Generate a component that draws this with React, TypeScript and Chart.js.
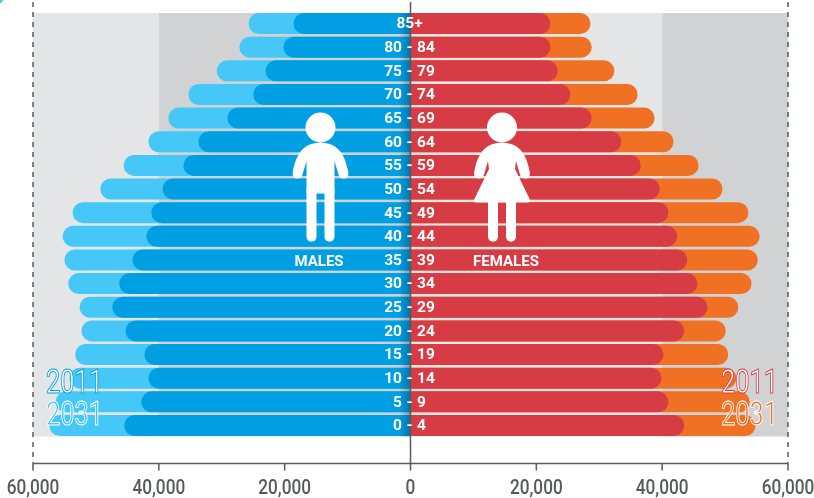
import React, { useEffect, useRef } from "react";
import { Chart, registerables } from "chart.js";

Chart.register(...registerables);

const ageGroups = ["85+", "80 - 84", "75 - 79", "70 - 74", "65 - 69", "60 - 64", "55 - 59", "50 - 54", "45 - 49", "40 - 44", "35 - 39", "30 - 34", "25 - 29", "20 - 24", "15 - 19", "10 - 14", "5 - 9", "0 - 4"];
const males2031 = [25750, 27200, 30800, 35300, 38500, 41650, 45600, 49300, 53700, 55300, 55000, 54400, 52600, 52300, 53300, 54200, 56400, 57400];
const males2011 = [18600, 20200, 23050, 25000, 29100, 33700, 36100, 39400, 41200, 42000, 44200, 46300, 47400, 45300, 42300, 41650, 42800, 45500];
const females2031 = [28600, 28800, 32400, 36100, 38800, 41800, 45800, 49600, 53700, 55500, 55200, 54200, 52100, 50100, 50500, 51800, 53900, 54850];
const females2011 = [22250, 22250, 23400, 25400, 28800, 33500, 36600, 39600, 41000, 42400, 44000, 45600, 47200, 43500, 40200, 39900, 41000, 43500];
const xTicks = [-60000, -40000, -20000, 0, 20000, 40000, 60000];

const BLUE = "#009FE3";
const LIGHT_BLUE = "#45C7F8";
const RED = "#D73C45";
const ORANGE = "#F07124";
const LIGHT_GREY = "#E4E5E7";
const DARK_GREY = "#D1D2D4";
const AXIS = "#58595B";

function drawFigure(ctx: CanvasRenderingContext2D, cx: number, female: boolean) {
  ctx.save();
  ctx.fillStyle = "#fff";
  ctx.strokeStyle = "#fff";
  ctx.lineCap = "round";
  ctx.beginPath();
  ctx.arc(cx, 127.5, 15, 0, Math.PI * 2);
  ctx.fill();
  for (const s of [1, -1]) {
    ctx.beginPath();
    ctx.moveTo(cx - s, 142.7);
    ctx.lineTo(cx, 142.7);
    ctx.bezierCurveTo(cx + s * 16, 142.7, cx + s * 24, 152, cx + s * 27.8, 172);
    ctx.quadraticCurveTo(cx + s * 28.6, 178.6, cx + s * 23, 178.6);
    ctx.quadraticCurveTo(cx + s * 19, 178.6, cx + s * 18, 174.5);
    ctx.lineTo(cx + s * 14, 161);
    if (female) {
      ctx.lineTo(cx + s * 13, 169);
      ctx.lineTo(cx + s * 27.6, 199);
      ctx.quadraticCurveTo(cx + s * 29, 202.5, cx + s * 25.5, 202.5);
      ctx.lineTo(cx - s, 202.5);
    } else {
      ctx.lineTo(cx + s * 14, 193.5);
      ctx.lineTo(cx - s, 193.5);
    }
    ctx.closePath();
    ctx.fill();
    ctx.lineWidth = 10;
    ctx.beginPath();
    ctx.moveTo(cx + s * 9, 190);
    ctx.lineTo(cx + s * 9, 236.7);
    ctx.stroke();
  }
  ctx.restore();
}

function squeezedText(ctx: CanvasRenderingContext2D, text: string, x: number, y: number, sx: number, draw: (t: string) => void) {
  ctx.save();
  ctx.translate(x, y);
  ctx.scale(sx, 1);
  ctx.textAlign = "center";
  draw(text);
  ctx.restore();
}

function yearLabel(ctx: CanvasRenderingContext2D, text: string, x: number, y: number, fill: string, line: string) {
  squeezedText(ctx, text, x, y, 0.76, (t) => {
    ctx.font = "400 33.5px Roboto";
    ctx.textBaseline = "alphabetic";
    ctx.lineJoin = "round";
    ctx.fillStyle = fill;
    ctx.fillText(t, 0, 0);
    ctx.lineWidth = 1;
    ctx.strokeStyle = line;
    ctx.strokeText(t, 0, 0);
  });
}

const pyramidPlugin = {
  id: "pyramid",
  beforeDatasetsDraw(chart: any) {
    const { ctx, chartArea, scales } = chart;
    const x = scales.x;
    const top = chartArea.top + 1.3;
    const h = chartArea.bottom - 0.8 - top;
    const band = (a: number, b: number, c: string) => {
      ctx.fillStyle = c;
      const pa = x.getPixelForValue(a);
      ctx.fillRect(pa, top, x.getPixelForValue(b) - pa, h);
    };
    band(-60000, -40000, LIGHT_GREY);
    band(-40000, 0, DARK_GREY);
    band(0, 40000, LIGHT_GREY);
    band(40000, 60000, DARK_GREY);
  },
  afterDatasetsDraw(chart: any) {
    const { ctx, chartArea, scales } = chart;
    const x = scales.x;
    const y = scales.y;
    const zero = x.getPixelForValue(0);
    const axisY = 463.5;

    // soft shade on the centre line
    const gl = ctx.createLinearGradient(zero - 12, 0, zero, 0);
    gl.addColorStop(0, "rgba(0,40,70,0)");
    gl.addColorStop(1, "rgba(0,40,70,0.35)");
    ctx.fillStyle = gl;
    ctx.fillRect(zero - 12, chartArea.top + 1.3, 12, chartArea.bottom - chartArea.top - 2.1);

    ctx.save();
    ctx.strokeStyle = AXIS;
    ctx.lineWidth = 1.5;
    ctx.beginPath();
    ctx.moveTo(x.getPixelForValue(-60000), axisY);
    ctx.lineTo(x.getPixelForValue(60000), axisY);
    for (const t of xTicks) {
      const px = x.getPixelForValue(t);
      ctx.moveTo(px, axisY);
      ctx.lineTo(px, axisY + 7);
    }
    ctx.moveTo(zero, 2);
    ctx.lineTo(zero, axisY);
    ctx.stroke();
    ctx.setLineDash([5, 5]);
    ctx.beginPath();
    for (const t of [-60000, 60000]) {
      const px = x.getPixelForValue(t);
      ctx.moveTo(px, 2);
      ctx.lineTo(px, axisY);
    }
    ctx.stroke();
    ctx.restore();

    // x-axis labels, narrowed to match the condensed face of the reference
    ctx.save();
    ctx.fillStyle = AXIS;
    ctx.textBaseline = "alphabetic";
    xTicks.forEach((t: number) => {
      squeezedText(ctx, Math.abs(t).toLocaleString("en-US"), x.getPixelForValue(t), 493.5, 0.86, (s) => {
        ctx.font = "500 20px Roboto";
        ctx.fillText(s, 0, 0);
      });
    });
    ctx.restore();

    ctx.save();
    ctx.fillStyle = "#fff";
    ctx.font = "bold 15.5px Roboto";
    ctx.textBaseline = "middle";
    ageGroups.forEach((label: string, i: number) => {
      const py = y.getPixelForValue(i) + 1;
      const parts = label.split(" - ");
      if (parts.length === 1) {
        ctx.textAlign = "center";
        ctx.fillText(label, zero - 1, py);
      } else {
        ctx.textAlign = "right";
        ctx.fillText(parts[0], zero - 8.5, py);
        ctx.textAlign = "center";
        ctx.fillText("-", zero - 1, py);
        ctx.textAlign = "left";
        ctx.fillText(parts[1], zero + 6.5, py);
      }
    });
    ctx.font = "bold 15px Roboto";
    ctx.textAlign = "center";
    ctx.fillText("MALES", 319, 262);
    ctx.fillText("FEMALES", 506, 262);
    ctx.restore();

    drawFigure(ctx, 320.5, false);
    drawFigure(ctx, 502, true);

    yearLabel(ctx, "2011", 74.5, 392.5, "#fff", BLUE);
    yearLabel(ctx, "2031", 74.5, 425, LIGHT_BLUE, "#fff");
    yearLabel(ctx, "2011", 749.5, 392.5, "#fff", RED);
    yearLabel(ctx, "2031", 749.5, 425, ORANGE, "#fff");

    ctx.save();
    ctx.fillStyle = "#58C3E8";
    ctx.beginPath();
    ctx.arc(-3, -3, 7, 0, Math.PI * 2);
    ctx.fill();
    ctx.restore();
  },
};

export default function App() {
  const ref = useRef<HTMLCanvasElement>(null);
  useEffect(() => {
    const bar = (label: string, data: number[], color: string, order: number) => ({
      label,
      data,
      backgroundColor: color,
      order,
      grouped: false,
      barThickness: 21,
      borderRadius: 11,
      borderSkipped: "start",
      inflateAmount: 0,
    });
    const neg = (a: number[]) => a.map((v) => -v);
    const chart = new Chart(ref.current!, {
      type: "bar",
      data: {
        labels: ageGroups,
        datasets: [
          bar("Males 2011", neg(males2011), BLUE, 1),
          bar("Females 2011", females2011, RED, 1),
          bar("Males 2031", neg(males2031), LIGHT_BLUE, 2),
          bar("Females 2031", females2031, ORANGE, 2),
        ] as any,
      },
      plugins: [pyramidPlugin],
      options: {
        indexAxis: "y",
        animation: false,
        responsive: false,
        layout: { autoPadding: false, padding: { top: 11.7, left: 33, right: 26, bottom: 0 } },
        plugins: { legend: { display: false }, tooltip: { enabled: false } },
        scales: {
          y: { display: false, type: "category" },
          x: {
            type: "linear",
            min: -60000,
            max: 60000,
            afterFit: (s: any) => {
              s.height = 60.7;
              s.paddingLeft = 0;
              s.paddingRight = 0;
            },
            afterBuildTicks: (s: any) => { s.ticks = xTicks.map((value) => ({ value })); },
            border: { display: false },
            grid: { display: false, drawTicks: false },
            ticks: { display: false },
          },
        },
      } as any,
    });
    return () => chart.destroy();
  }, []);
  return (
    <div style={{ position: "fixed", left: 0, top: 0, width: 814, height: 498, background: "#fff" }}>
      <canvas ref={ref} width={814} height={498} style={{ display: "block" }} />
    </div>
  );
}
